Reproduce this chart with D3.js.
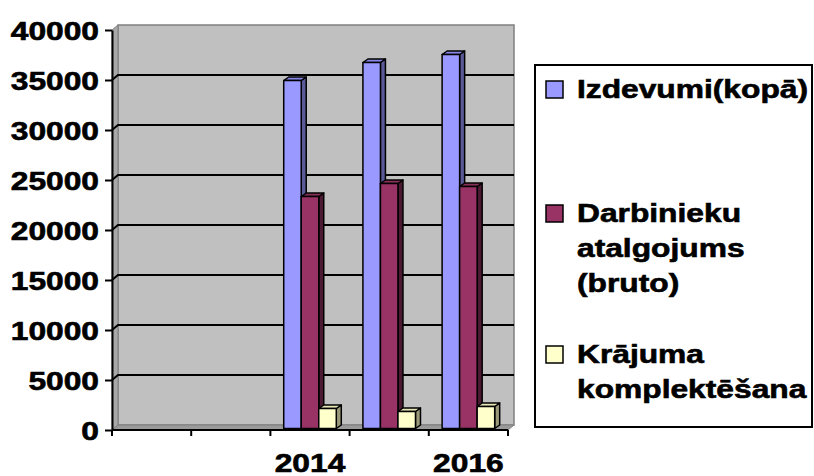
<!DOCTYPE html>
<html>
<head>
<meta charset="utf-8">
<script src="https://cdn.jsdelivr.net/npm/d3@7"></script>
<style>
  html, body { margin: 0; padding: 0; background: #ffffff; }
  svg { display: block; }
  text { font-family: "Liberation Sans", Arial, sans-serif; font-weight: bold; fill: #000; stroke: #000; stroke-width: 0.6px; }
</style>
</head>
<body>
<svg id="chart" width="814" height="476"></svg>
<script>
// ---- data ----
const categories = ["", "", "2014", "2015", "2016"];
const xTickLabels = ["", "", "2014", "", "2016"];
const seriesNames = ["Izdevumi(kopā)", "Darbinieku atalgojums (bruto)", "Krājuma komplektēšana"];
const izdevumi   = [null, null, 34800, 36600, 37400];
const atalgojums = [null, null, 23200, 24500, 24200];
const krajums    = [null, null, 2000, 1700, 2200];
const yTicks = [0, 5000, 10000, 15000, 20000, 25000, 30000, 35000, 40000];

// ---- styles ----
const seriesStyle = [
  { front: "#9999FF", top: "#8686e6", side: "#5a5a99" },
  { front: "#993366", top: "#86305a", side: "#4d1a33" },
  { front: "#FFFFCC", top: "#e6e6b5", side: "#9a9a7a" }
];
const seriesValues = [izdevumi, atalgojums, krajums];
const SX = 1.27;          // horizontal stretch of the text
const FONT = 25;

const svg = d3.select("#chart");

// scales
const x = d3.scaleBand().domain(d3.range(categories.length)).range([112, 508]).padding(0);
const y = d3.scaleLinear().domain([0, 40000]).range([430, 30]);
const inner = d3.scaleBand().domain(d3.range(seriesNames.length))
  .range([0, x.bandwidth()]).paddingInner(0).paddingOuter(0.76);

// wall depth
const WDX = 6, WDY = -5;
const x0 = x.range()[0], x1 = x.range()[1];
const yb = y(0), yt = y(40000);

// back wall
svg.append("rect")
  .attr("x", x0 + WDX).attr("y", yt + WDY)
  .attr("width", x1 - x0).attr("height", yb - yt)
  .attr("fill", "#C0C0C0").attr("stroke", "#808080").attr("stroke-width", 1.5);

// left side wall
svg.append("path")
  .attr("d", `M${x0},${yb}L${x0},${yt}L${x0 + WDX},${yt + WDY}L${x0 + WDX},${yb + WDY}Z`)
  .attr("fill", "#a8a8a8").attr("stroke", "#808080").attr("stroke-width", 1);

// floor
svg.append("path")
  .attr("d", `M${x0},${yb}L${x1},${yb}L${x1 + WDX},${yb + WDY}L${x0 + WDX},${yb + WDY}Z`)
  .attr("fill", "#9a9a9a").attr("stroke", "#808080").attr("stroke-width", 1);

// gridlines (back wall + side wall)
const gridVals = yTicks.filter(v => v > 0 && v < 40000);
svg.append("g").selectAll("path").data(gridVals).join("path")
  .attr("d", v => `M${x0},${y(v)}L${x0 + WDX},${y(v) + WDY}L${x1 + WDX},${y(v) + WDY}`)
  .attr("fill", "none").attr("stroke", "#000").attr("stroke-width", 2);

// bars (3D columns)
const BDX = 5, BDY = -3.5, BSHIFT = -1.5;
const barG = svg.append("g");
categories.forEach((c, ci) => {
  seriesValues.forEach((vals, si) => {
    const v = vals[ci];
    if (v == null) return;
    const st = seriesStyle[si];
    const bx = x(ci) + inner(si);
    const w = inner.bandwidth();
    const top = y(v) + BSHIFT;
    const bot = y(0) + BSHIFT;
    const g = barG.append("g").attr("stroke", "#000").attr("stroke-width", 1.5).attr("stroke-linejoin", "round");
    g.append("path")
      .attr("d", `M${bx + w},${top}L${bx + w + BDX},${top + BDY}L${bx + w + BDX},${bot + BDY}L${bx + w},${bot}Z`)
      .attr("fill", st.side);
    g.append("path")
      .attr("d", `M${bx},${top}L${bx + BDX},${top + BDY}L${bx + w + BDX},${top + BDY}L${bx + w},${top}Z`)
      .attr("fill", st.top);
    g.append("rect")
      .attr("x", bx).attr("y", top).attr("width", w).attr("height", bot - top)
      .attr("fill", st.front);
  });
});

// y axis
const yAxis = svg.append("g").attr("transform", `translate(${x0},0)`)
  .call(d3.axisLeft(y).tickValues(yTicks).tickSize(7).tickSizeOuter(0).tickFormat(d3.format("d")));
yAxis.select(".domain").attr("stroke", "#000").attr("stroke-width", 2);
yAxis.selectAll(".tick line").attr("stroke", "#000").attr("stroke-width", 2);
yAxis.selectAll(".tick text")
  .attr("x", -13 / SX).attr("dy", "0.37em")
  .attr("transform", `scale(${SX},1)`)
  .style("font-size", FONT + "px").style("font-family", "'Liberation Sans', Arial, sans-serif").style("font-weight", "bold");

// x axis line + boundary ticks
const xg = svg.append("g");
xg.append("line").attr("x1", x0).attr("x2", x1).attr("y1", yb).attr("y2", yb)
  .attr("stroke", "#000").attr("stroke-width", 2);
const bounds = d3.range(categories.length).map(i => x(i)).concat([x1]);
xg.selectAll("line.tk").data(bounds).join("line").attr("class", "tk")
  .attr("x1", d => d).attr("x2", d => d).attr("y1", yb).attr("y2", yb + 6)
  .attr("stroke", "#000").attr("stroke-width", 2);
xg.selectAll("text").data(xTickLabels).join("text")
  .attr("transform", (d, i) => `translate(${x(i) + x.bandwidth() / 2},472) scale(${SX},1)`)
  .attr("text-anchor", "middle")
  .style("font-size", FONT + "px")
  .text(d => d);

// legend
const lg = svg.append("g");
lg.append("rect").attr("x", 535).attr("y", 65).attr("width", 277).attr("height", 362)
  .attr("fill", "#fff").attr("stroke", "#000").attr("stroke-width", 2);
const legendBaselines = [98, 222, 363];
const LINE_H = 35;
seriesNames.forEach((name, i) => {
  const by = legendBaselines[i];
  lg.append("rect").attr("x", 546).attr("y", by - 17).attr("width", 17).attr("height", 17)
    .attr("fill", seriesStyle[i].front).attr("stroke", "#000").attr("stroke-width", 1.5);
  name.split(" ").forEach((line, li) => {
    lg.append("text")
      .attr("transform", `translate(577,${by + li * LINE_H}) scale(${SX},1)`)
      .style("font-size", FONT + "px")
      .text(line);
  });
});
</script>
</body>
</html>
